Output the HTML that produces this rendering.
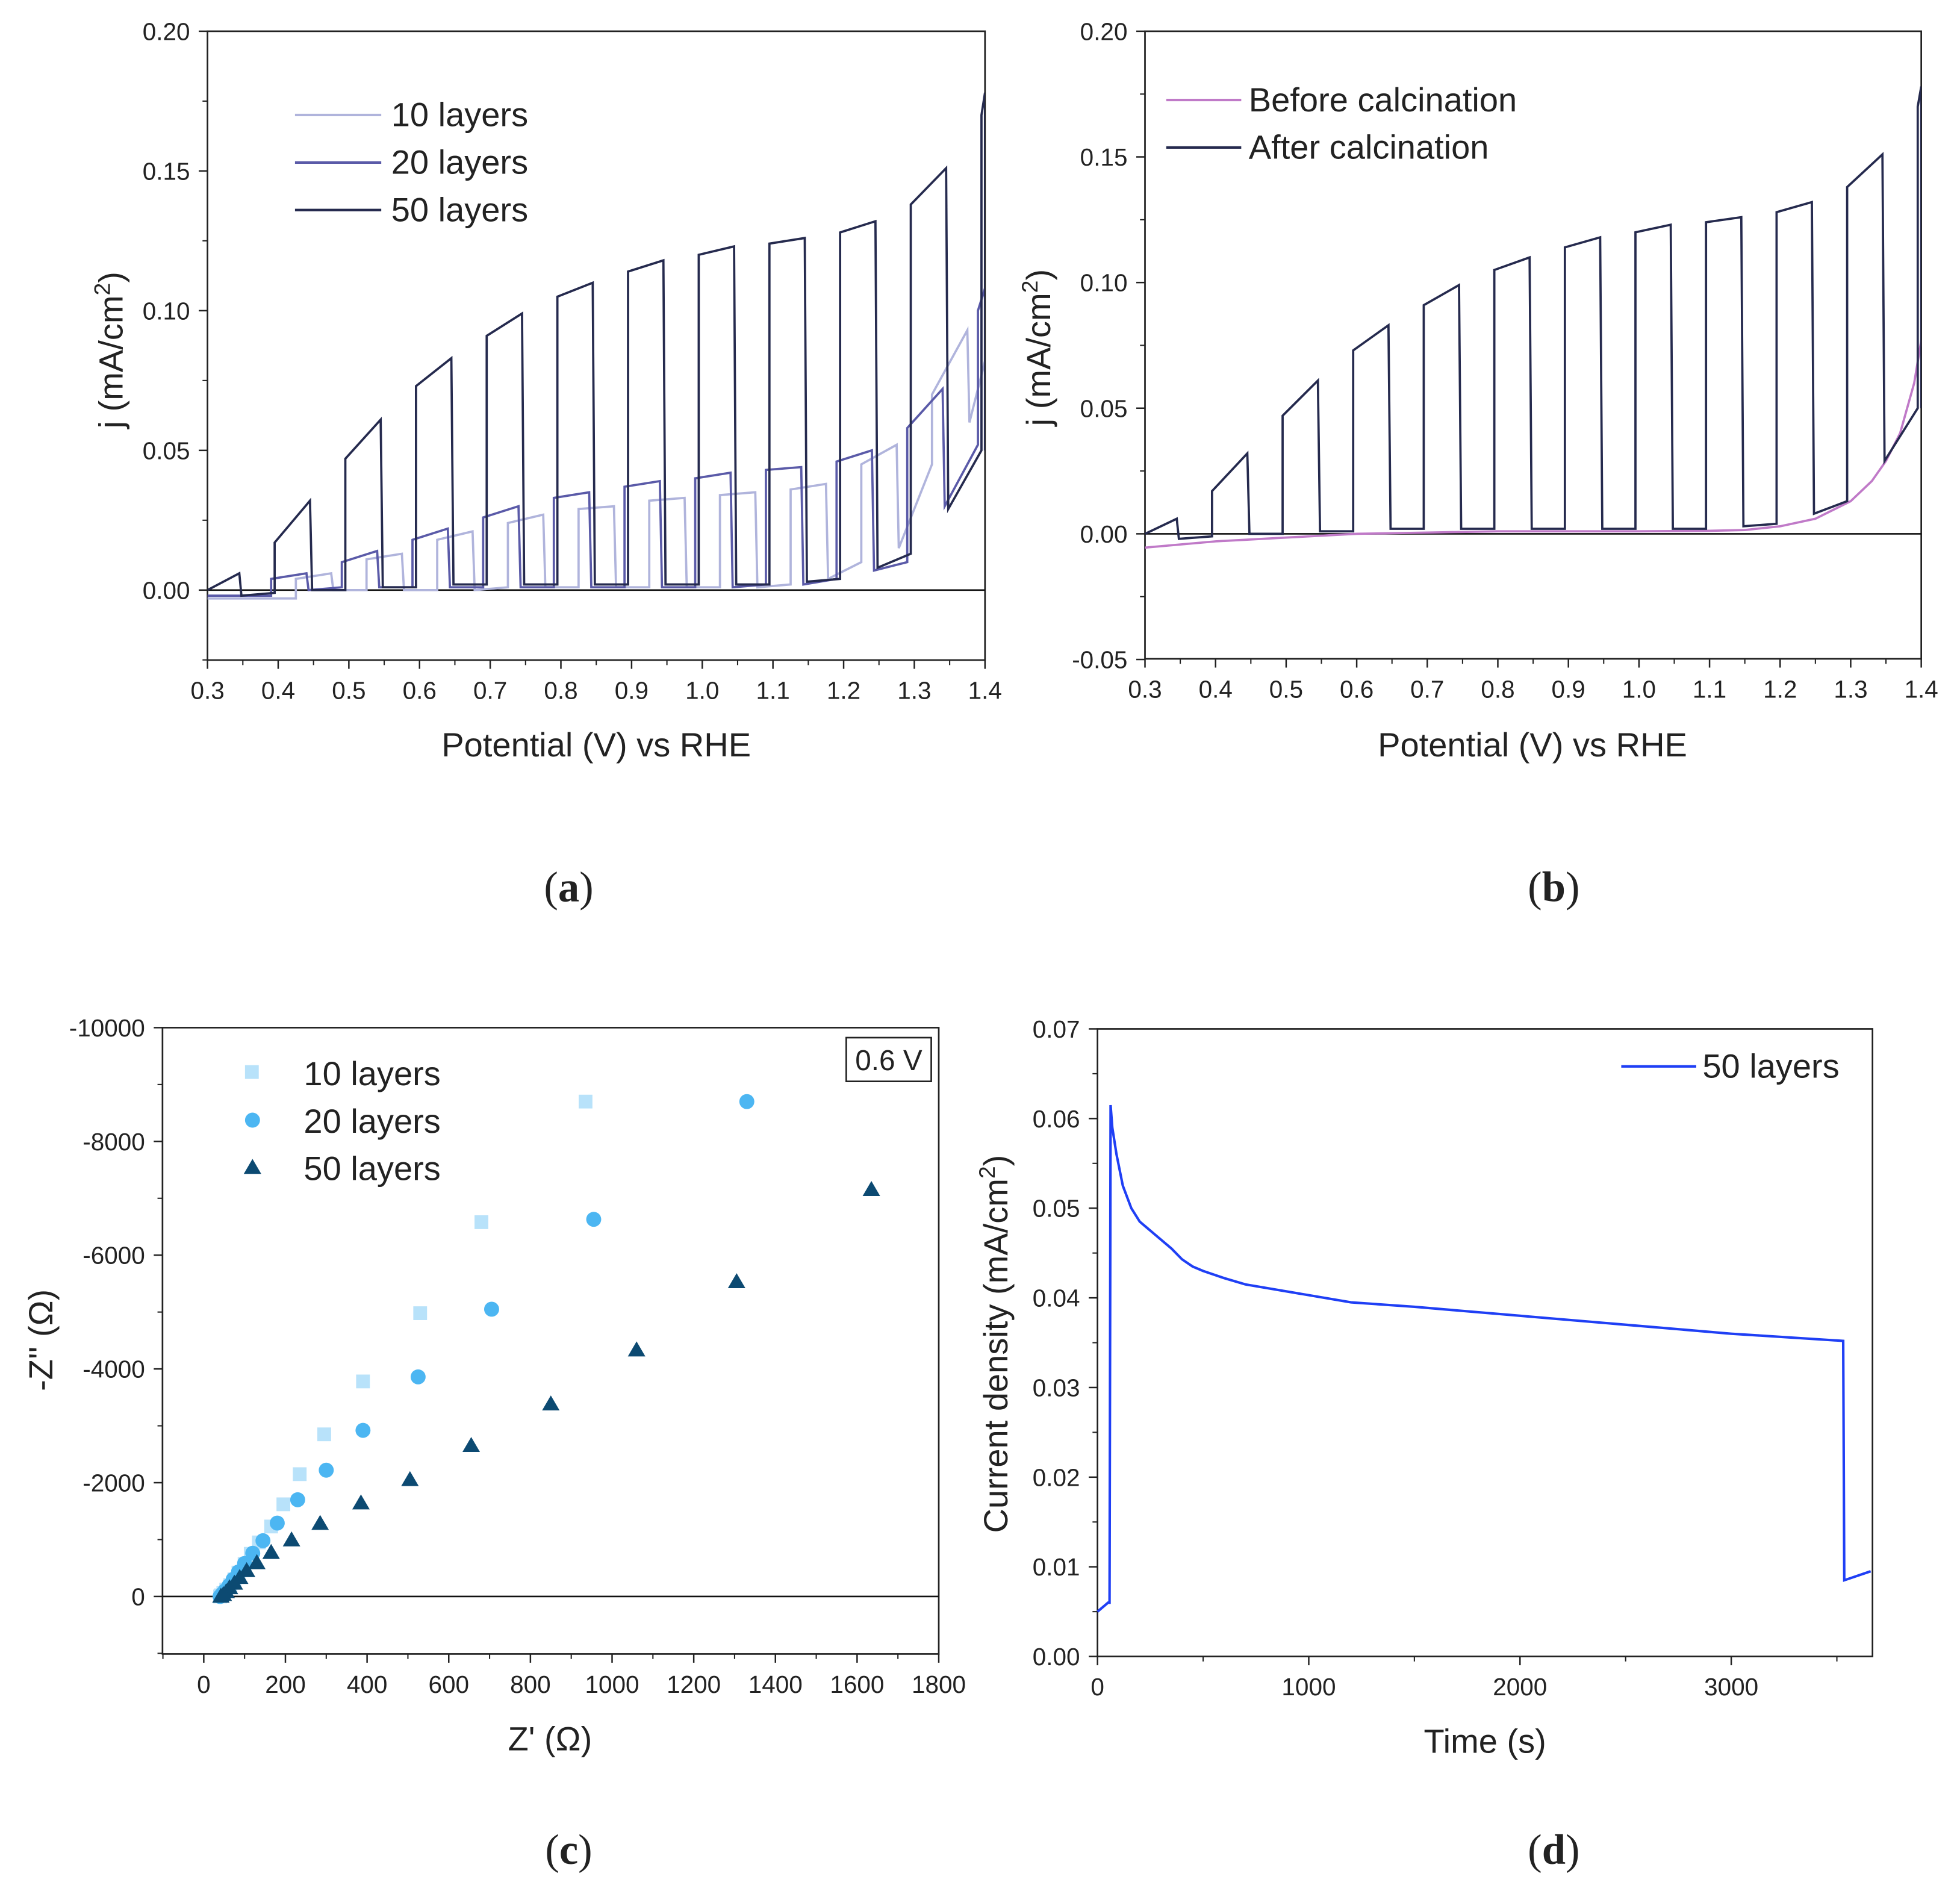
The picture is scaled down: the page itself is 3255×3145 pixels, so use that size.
<!DOCTYPE html>
<html><head><meta charset="utf-8"><style>
html,body{margin:0;padding:0;background:#fff;}
svg{display:block;}
text{font-family:"Liberation Sans",sans-serif;fill:#222;}
</style></head><body>
<svg id="fig" width="3255" height="3145" viewBox="0 0 1568 1515" preserveAspectRatio="none" xmlns="http://www.w3.org/2000/svg">
<defs>
<clipPath id="clipA"><rect x="166" y="25" width="622" height="503"/></clipPath>
<clipPath id="clipB"><rect x="916" y="25" width="621" height="502"/></clipPath>
</defs>
<g id="pa"></g>
<g id="pb"></g>
<g id="pc"></g>
<g id="pd"></g>
<text x="455" y="721" font-size="34" text-anchor="middle" style="font-family:'Liberation Serif',serif">(<tspan font-weight="bold">a</tspan>)</text>
<text x="1243" y="721" font-size="34" text-anchor="middle" style="font-family:'Liberation Serif',serif">(<tspan font-weight="bold">b</tspan>)</text>
<text x="455" y="1491" font-size="34" text-anchor="middle" style="font-family:'Liberation Serif',serif">(<tspan font-weight="bold">c</tspan>)</text>
<text x="1243" y="1491" font-size="34" text-anchor="middle" style="font-family:'Liberation Serif',serif">(<tspan font-weight="bold">d</tspan>)</text>
</svg>
<script>
// ---- Panel a/b data: chopped-light CV (on potential, j at light-on, j at light-off, dark j after) ----
const onV50 = [0.30,0.395,0.495,0.595,0.695,0.795,0.895,0.995,1.095,1.195,1.295,1.395];
const offV50 = [0.345,0.445,0.545,0.645,0.745,0.845,0.945,1.045,1.145,1.245,1.345,1.40];
const jOn50 = [0.000,0.017,0.047,0.073,0.091,0.105,0.114,0.120,0.124,0.128,0.138,0.170];
const jOff50 = [0.006,0.032,0.061,0.083,0.099,0.110,0.118,0.123,0.126,0.132,0.151,0.178];
const dark50 = [-0.002,0.000,0.001,0.002,0.002,0.002,0.002,0.002,0.003,0.008,0.029,0.05];
const darkEnd50 = [-0.001,0.000,0.001,0.002,0.002,0.002,0.002,0.002,0.004,0.013,0.05,0.05];

const onV20 = [0.39,0.49,0.59,0.69,0.79,0.89,0.99,1.09,1.19,1.29,1.39];
const offV20 = [0.44,0.54,0.64,0.74,0.84,0.94,1.04,1.14,1.24,1.34,1.40];
const jOn20 = [0.004,0.010,0.018,0.026,0.033,0.037,0.040,0.043,0.046,0.058,0.100];
const jOff20 = [0.006,0.014,0.022,0.030,0.035,0.039,0.042,0.044,0.050,0.072,0.108];
const dark20 = [0.000,0.001,0.001,0.001,0.001,0.001,0.001,0.002,0.007,0.030,0.05];
const darkEnd20 = [0.001,0.001,0.001,0.001,0.001,0.001,0.002,0.004,0.010,0.052,0.05];

const onV10 = [0.425,0.525,0.625,0.725,0.825,0.925,1.025,1.125,1.225,1.325];
const offV10 = [0.475,0.575,0.675,0.775,0.875,0.975,1.075,1.175,1.275,1.375];
const jOn10 = [0.004,0.011,0.018,0.024,0.029,0.032,0.034,0.036,0.045,0.070];
const jOff10 = [0.006,0.013,0.021,0.027,0.030,0.033,0.035,0.038,0.052,0.093];
const dark10 = [0.000,0.000,0.000,0.001,0.001,0.001,0.001,0.004,0.015,0.060];
const darkEnd10 = [0.000,0.000,0.001,0.001,0.001,0.001,0.002,0.010,0.045,0.082];

const beforeV = [0.30,0.40,0.50,0.60,0.70,0.80,0.90,1.00,1.10,1.15,1.20,1.25,1.30,1.33,1.35,1.37,1.39,1.40];
const beforeJ = [-0.0055,-0.003,-0.0015,0.000,0.0005,0.001,0.001,0.001,0.0012,0.0015,0.003,0.006,0.013,0.021,0.029,0.040,0.060,0.077];

// ---- Panel c data (Nyquist) ----
const zr10 = [935,680,530,390,295,235,195,165,135,115,100,85,75,65,55,48,42,40];
const zi10 = [-8700,-6580,-4980,-3780,-2850,-2150,-1620,-1230,-950,-750,-570,-420,-300,-200,-120,-60,-20,0];
const zr20 = [1330,955,705,525,390,300,230,180,145,120,100,85,72,62,52,45,40];
const zi20 = [-8700,-6630,-5050,-3860,-2920,-2220,-1700,-1290,-980,-760,-580,-430,-300,-190,-100,-40,0];
const zr50 = [1635,1305,1060,850,655,505,385,285,215,165,130,105,88,75,63,55,48,42];
const zi50 = [-7150,-5530,-4330,-3380,-2650,-2050,-1640,-1280,-990,-770,-590,-450,-330,-230,-150,-80,-30,0];

// ---- Panel d data (chronoamperometry) ----
const tD = [0,50,57,62,70,90,120,160,200,250,300,350,400,450,500,600,700,1000,1200,1500,2000,2500,3000,3530,3535,3660];
const jD = [0.005,0.006,0.006,0.0615,0.059,0.056,0.0525,0.050,0.0485,0.0475,0.0465,0.0455,0.0443,0.0435,0.043,0.0422,0.0415,0.0403,0.0395,0.039,0.038,0.037,0.036,0.0352,0.0085,0.0095];

const NS='http://www.w3.org/2000/svg';
function mk(parent,tag,attrs,txt){const e=document.createElementNS(NS,tag);for(const k in attrs)e.setAttribute(k,attrs[k]);if(txt!==undefined)e.textContent=txt;parent.appendChild(e);return e;}
function scale(d0,d1,p0,p1){return v=>p0+(v-d0)*(p1-p0)/(d1-d0);}

function axes(g,X,Y,box,xt,xminor,yt,yminor,fmtX,fmtY){
  const f=mk(g,'rect',{x:box[0],y:box[1],width:box[2]-box[0],height:box[3]-box[1],fill:'none',stroke:'#222','stroke-width':1.3});
  
  
  xt.forEach(v=>{const x=X(v);mk(g,'line',{x1:x,x2:x,y1:box[3],y2:box[3]+7,stroke:'#222','stroke-width':1.2});
    const t=mk(g,'text',{x:x,y:box[3]+31,'font-size':19.5,'text-anchor':'middle'},fmtX(v));
    
    });
  xminor.forEach(v=>{const x=X(v);mk(g,'line',{x1:x,x2:x,y1:box[3],y2:box[3]+4,stroke:'#222','stroke-width':1});});
  yt.forEach(v=>{const y=Y(v);mk(g,'line',{x1:box[0]-7,x2:box[0],y1:y,y2:y,stroke:'#222','stroke-width':1.2});
    const t=mk(g,'text',{x:box[0]-14,y:y+7,'font-size':19.5,'text-anchor':'end'},fmtY(v));
    
    });
  yminor.forEach(v=>{const y=Y(v);mk(g,'line',{x1:box[0]-4,x2:box[0],y1:y,y2:y,stroke:'#222','stroke-width':1});});
}
function range(a,b,s){const r=[];for(let v=a;v<=b+s*1e-6;v+=s)r.push(Math.round(v*1e6)/1e6);return r;}

function cvPath(X,Y,on,off,jon,joff,dark,darkEnd,startV,startJ){
  let d='M'+X(startV)+','+Y(startJ);
  for(let i=0;i<on.length;i++){
    d+=' L'+X(on[i])+','+Y(i===0?startJ:darkEnd[i-1]);
    d+=' L'+X(on[i])+','+Y(jon[i])+' L'+X(off[i])+','+Y(joff[i])+' L'+X(Math.min(off[i]+0.003,1.4))+','+Y(dark[i]);
  }
  const last=on.length-1;
  if(off[last]<1.4)d+=' L'+X(1.4)+','+Y(darkEnd[last]);
  return d;
}

// ---------- Panel a ----------
(function(){
  const g=document.getElementById('pa');
  const X=scale(0.3,1.4,166,788), Y=scale(0,0.2,472,25);
  const box=[166,25,788,528];
  axes(g,X,Y,box,range(0.3,1.4,0.1),range(0.35,1.35,0.1),range(0,0.2,0.05),range(-0.025,0.175,0.05),v=>v.toFixed(1),v=>v.toFixed(2));
  mk(g,'line',{x1:166,x2:788,y1:Y(0),y2:Y(0),stroke:'#111','stroke-width':1.3});
  const cg=mk(g,'g',{'clip-path':'url(#clipA)'});
  const p10=mk(cg,'path',{d:cvPath(X,Y,onV10,offV10,jOn10,jOff10,dark10,darkEnd10,0.3,-0.003),fill:'none',stroke:'#b0b4dc','stroke-width':1.8});
  
  
  const p20=mk(cg,'path',{d:cvPath(X,Y,onV20,offV20,jOn20,jOff20,dark20,darkEnd20,0.3,-0.002),fill:'none',stroke:'#5a5aa8','stroke-width':1.8});
  
  
  const p50=mk(cg,'path',{d:cvPath(X,Y,onV50,offV50,jOn50,jOff50,dark50,darkEnd50,0.3,0.0),fill:'none',stroke:'#252a4e','stroke-width':1.8});
  
  
  const leg=[['10 layers','#b0b4dc',92],['20 layers','#5a5aa8',130],['50 layers','#252a4e',168]];
  leg.forEach(l=>{mk(g,'line',{x1:236,x2:305,y1:l[2],y2:l[2],stroke:l[1],'stroke-width':2});
    const t=mk(g,'text',{x:313,y:l[2]+9,'font-size':27},l[0]);
    
    });
  const xt=mk(g,'text',{x:477,y:605,'font-size':27,'text-anchor':'middle'},'Potential (V) vs RHE');
  
  
  const yt=mk(g,'text',{x:0,y:0,'font-size':27,'text-anchor':'middle',transform:'translate(98,280) rotate(-90)'});
  yt.innerHTML='j (mA/cm<tspan baseline-shift="super" font-size="18">2</tspan>)';
  
  
})();

// ---------- Panel b ----------
(function(){
  const g=document.getElementById('pb');
  const X=scale(0.3,1.4,916,1537), Y=scale(0,0.2,427,25);
  const box=[916,25,1537,527];
  axes(g,X,Y,box,range(0.3,1.4,0.1),range(0.35,1.35,0.1),range(-0.05,0.2,0.05),range(-0.025,0.175,0.05),v=>v.toFixed(1),v=>v.toFixed(2));
  mk(g,'line',{x1:916,x2:1537,y1:Y(0),y2:Y(0),stroke:'#111','stroke-width':1.3});
  const cg=mk(g,'g',{'clip-path':'url(#clipB)'});
  let d='';beforeV.forEach((v,i)=>{d+=(i?' L':'M')+X(v)+','+Y(beforeJ[i]);});
  const pb=mk(cg,'path',{d:d,fill:'none',stroke:'#c07ac8','stroke-width':1.8});
  
  
  const pa=mk(cg,'path',{d:cvPath(X,Y,onV50,offV50,jOn50,jOff50,dark50,darkEnd50,0.3,0.0),fill:'none',stroke:'#252a4e','stroke-width':1.8});
  
  
  const leg=[['Before calcination','#c07ac8',80],['After calcination','#252a4e',118]];
  leg.forEach(l=>{mk(g,'line',{x1:933,x2:993,y1:l[2],y2:l[2],stroke:l[1],'stroke-width':2});
    const t=mk(g,'text',{x:999,y:l[2]+9,'font-size':27},l[0]);
    
    });
  const xt=mk(g,'text',{x:1226,y:605,'font-size':27,'text-anchor':'middle'},'Potential (V) vs RHE');
  
  
  const yt=mk(g,'text',{x:0,y:0,'font-size':27,'text-anchor':'middle',transform:'translate(840,278) rotate(-90)'});
  yt.innerHTML='j (mA/cm<tspan baseline-shift="super" font-size="18">2</tspan>)';
  
  
})();

// ---------- Panel c ----------
(function(){
  const g=document.getElementById('pc');
  const X=scale(0,1800,163,751), Y=scale(0,-10000,1277,822);
  const box=[130,822,751,1323];
  axes(g,X,Y,box,range(0,1800,200),range(-100,1700,200),range(-10000,0,2000),range(-9000,1000,2000),v=>String(v),v=>String(v));
  mk(g,'line',{x1:130,x2:751,y1:Y(0),y2:Y(0),stroke:'#111','stroke-width':1.3});
  zr10.forEach((v,i)=>{const r=mk(g,'rect',{x:X(v)-5.5,y:Y(zi10[i])-5.5,width:11,height:11,fill:'#b8e2fa'});
    
    });
  zr20.forEach((v,i)=>{const c=mk(g,'circle',{cx:X(v),cy:Y(zi20[i]),r:6,fill:'#4cb6f2'});
    
    });
  zr50.forEach((v,i)=>{const x=X(v),y=Y(zi50[i]);const p=mk(g,'polygon',{points:(x)+','+(y-7)+' '+(x-7)+','+(y+5)+' '+(x+7)+','+(y+5),fill:'#0c4a72'});
    
    });
  mk(g,'rect',{x:196,y:852,width:11,height:11,fill:'#b8e2fa'});
  mk(g,'circle',{cx:202,cy:896,r:6,fill:'#4cb6f2'});
  mk(g,'polygon',{points:'202,927 195,939 209,939',fill:'#0c4a72'});
  [['10 layers',858],['20 layers',896],['50 layers',934]].forEach(l=>{const t=mk(g,'text',{x:243,y:l[1]+10,'font-size':27},l[0]);
    
    });
  mk(g,'rect',{x:677,y:830,width:68,height:35,fill:'none',stroke:'#222','stroke-width':1.3});
  const vt=mk(g,'text',{x:711,y:856,'font-size':23,'text-anchor':'middle'},'0.6 V');
  
  
  const xt=mk(g,'text',{x:440,y:1400,'font-size':27,'text-anchor':'middle'},"Z' (Ω)");
  
  
  const yt=mk(g,'text',{x:0,y:0,'font-size':27,'text-anchor':'middle',transform:'translate(42,1072) rotate(-90)'},"-Z'' (Ω)");
  
  
})();

// ---------- Panel d ----------
(function(){
  const g=document.getElementById('pd');
  const X=scale(0,1000,878,1047), Y=scale(0,0.07,1325,823);
  const box=[878,823,1498,1325];
  axes(g,X,Y,box,range(0,3000,1000),range(500,3500,1000),range(0,0.07,0.01),range(0.005,0.065,0.01),v=>String(v),v=>v.toFixed(2));
  let d='';tD.forEach((v,i)=>{d+=(i?' L':'M')+X(v)+','+Y(jD[i]);});
  const p=mk(g,'path',{d:d,fill:'none',stroke:'#1f3ff5','stroke-width':2});
  
  
  mk(g,'line',{x1:1297,x2:1357,y1:853,y2:853,stroke:'#1f3ff5','stroke-width':2});
  const lt=mk(g,'text',{x:1362,y:862,'font-size':27},'50 layers');
  
  
  const xt=mk(g,'text',{x:1188,y:1402,'font-size':27,'text-anchor':'middle'},'Time (s)');
  
  
  const yt=mk(g,'text',{x:0,y:0,'font-size':27,'text-anchor':'middle',transform:'translate(806,1075) rotate(-90)'});
  yt.innerHTML='Current density (mA/cm<tspan baseline-shift="super" font-size="18">2</tspan>)';
  
  
})();
</script>
</body></html>
